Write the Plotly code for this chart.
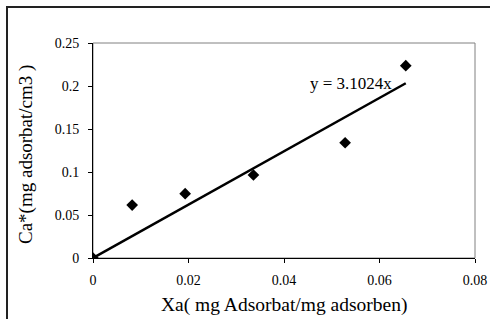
import plotly.graph_objects as go

xa = [0, 0.0082, 0.0193, 0.0336, 0.0528, 0.0655]
ca = [0, 0.0615, 0.0748, 0.0965, 0.134, 0.2236]
slope = 3.1024
trend_x = [0, max(xa)]
trend_y = [slope * v for v in trend_x]
x_ticks = [0, 0.02, 0.04, 0.06, 0.08]
y_ticks = [0, 0.05, 0.1, 0.15, 0.2, 0.25]

W, H = 491, 320
ml, mr, mt, mb = 93, 16, 43, 62
pw, ph = W - ml - mr, H - mt - mb

font = "Liberation Serif, Times New Roman, serif"

fig = go.Figure()
fig.add_trace(go.Scatter(x=trend_x, y=trend_y, mode="lines",
                         line=dict(color="black", width=2.5), hoverinfo="skip"))
fig.add_trace(go.Scatter(x=xa, y=ca, mode="markers",
                         marker=dict(symbol="diamond", size=9, color="black")))

fig.add_annotation(x=trend_x[-1], y=trend_y[-1], xref="x", yref="y",
                   text="y = 3.1024x", showarrow=False,
                   xanchor="right", yanchor="middle", xshift=-12, yshift=0,
                   font=dict(family=font, size=17, color="black"))

# axis titles placed as annotations for precise position
fig.add_annotation(x=(284 - ml) / pw, y=-(305 - mt - ph) / ph, xref="paper", yref="paper",
                   text="Xa( mg Adsorbat/mg adsorben)", showarrow=False,
                   xanchor="center", yanchor="middle",
                   font=dict(family=font, size=19.5, color="black"))
fig.add_annotation(x=(26 - ml) / pw, y=(mt + ph - 155) / ph, xref="paper", yref="paper",
                   text="Ca*(mg adsorbat/cm3 )", showarrow=False, textangle=-90,
                   xanchor="center", yanchor="middle",
                   font=dict(family=font, size=19, color="black"))

# plot area frame (gray top/right)
fig.add_shape(type="rect", xref="paper", yref="paper", x0=0, y0=0, x1=1, y1=1,
              line=dict(color="#808080", width=1), layer="below")
# outer chart border: only left and top edges fall inside the image
xl = (7 - ml) / pw
yt = (mt - 7 + ph) / ph
yb = -(mb - 1) / ph
xr = (W - 1 - ml) / pw
fig.add_shape(type="path", xref="paper", yref="paper",
              path=f"M {xl},{yb} L {xl},{yt} L {xr},{yt}",
              line=dict(color="#222222", width=2))

fig.update_xaxes(range=[0, 0.08], tickvals=x_ticks, ticktext=["0", "0.02", "0.04", "0.06", "0.08"],
                 showgrid=False, zeroline=False, showline=True, linecolor="black", linewidth=1,
                 ticks="outside", ticklen=4, tickcolor="black", automargin=False,
                 ticklabelstandoff=5,
                 tickfont=dict(family=font, size=14, color="black"))
fig.update_yaxes(range=[0, 0.25], tickvals=y_ticks, ticktext=["0", "0.05", "0.1", "0.15", "0.2", "0.25"],
                 showgrid=False, zeroline=False, showline=True, linecolor="black", linewidth=1,
                 ticks="outside", ticklen=4, tickcolor="black", automargin=False,
                 ticklabelstandoff=6,
                 tickfont=dict(family=font, size=14, color="black"))

fig.update_layout(width=W, height=H, margin=dict(l=ml, r=mr, t=mt, b=mb, autoexpand=False),
                  paper_bgcolor="white", plot_bgcolor="white", showlegend=False)

fig.write_html("out.html", config={"displayModeBar": False},
               post_script="document.body.style.margin='0';document.body.style.overflow='hidden';")
